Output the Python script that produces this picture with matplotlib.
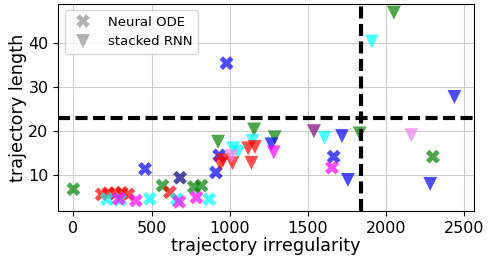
import matplotlib
matplotlib.use("Agg")
import matplotlib.pyplot as plt
from matplotlib.lines import Line2D

# Neural ODE runs (X markers)
ode_x = [0, 979, 458, 682, 570, 770, 819,
         181, 224, 266, 309, 351, 617,
         215, 300, 489, 660, 868,
         290, 400, 677, 787,
         932, 911, 1664, 1653, 2298]
ode_y = [6.8, 35.5, 11.4, 9.4, 7.6, 7.3, 7.6,
         5.6, 5.9, 5.8, 6.0, 5.6, 6.1,
         4.5, 4.4, 4.6, 4.5, 4.5,
         4.6, 4.2, 3.9, 4.9,
         14.5, 10.6, 14.2, 11.7, 14.2]
ode_c = ["green", "blue", "blue", "navy", "green", "green", "green",
         "red", "red", "red", "red", "red", "red",
         "cyan", "cyan", "cyan", "cyan", "cyan",
         "magenta", "magenta", "magenta", "magenta",
         "blue", "blue", "blue", "magenta", "green"]

# stacked RNN runs (triangle markers)
rnn_x = [2049, 1908, 2436, 1538, 1606, 1717, 1830, 2160, 1755, 2281,
         1287, 1266, 1281, 1155, 1145, 1160, 1117, 1138, 1021, 1053,
         1017, 957, 925, 940, 1011]
rnn_y = [47.0, 40.4, 27.8, 20.0, 18.5, 18.9, 19.5, 19.1, 8.9, 8.0,
         18.6, 17.0, 15.2, 20.4, 17.8, 16.4, 16.1, 12.8, 16.1, 15.3,
         12.7, 13.4, 17.6, 12.5, 14.3]
rnn_c = ["green", "cyan", "blue", "purple", "cyan", "blue", "green", "violet", "blue", "blue",
         "green", "blue", "magenta", "green", "cyan", "red", "red", "red", "cyan", "cyan",
         "red", "red", "green", "red", "violet"]

x_thresh = 1840
y_thresh = 22.9

fig, ax = plt.subplots(figsize=(4.89, 2.59), dpi=100)
fig.subplots_adjust(left=0.119, right=0.969, top=0.985, bottom=0.185)

ax.grid(True, color="#cccccc", linewidth=0.8)
ax.set_axisbelow(True)

ax.scatter(ode_x, ode_y, c=ode_c, marker="X", s=100, alpha=0.7, linewidths=0)
ax.scatter(rnn_x, rnn_y, c=rnn_c, marker="v", s=100, alpha=0.7, linewidths=0)

ax.axvline(x_thresh, color="black", linewidth=3, dashes=(2.9, 1.3), zorder=3)
ax.axhline(y_thresh, color="black", linewidth=3, dashes=(2.9, 1.3), zorder=3)

ax.set_xlim(-97, 2560)
ax.set_ylim(1.8, 49)
ax.set_xticks([0, 500, 1000, 1500, 2000, 2500])
ax.set_yticks([10, 20, 30, 40])
ax.tick_params(labelsize=11.5)
ax.set_xlabel("trajectory irregularity", fontsize=12.7, labelpad=1)
ax.set_ylabel("trajectory length", fontsize=12.7, labelpad=1)

handles = [
    Line2D([], [], marker="X", linestyle="none", color="gray", alpha=0.6, markersize=10, markeredgewidth=0),
    Line2D([], [], marker="v", linestyle="none", color="gray", alpha=0.6, markersize=10, markeredgewidth=0),
]
ax.legend(handles, ["Neural ODE", "stacked RNN"], loc="upper left", fontsize=9.5,
          handletextpad=0.9, borderpad=0.4, labelspacing=0.5)

fig.savefig("out.png", dpi=100)
